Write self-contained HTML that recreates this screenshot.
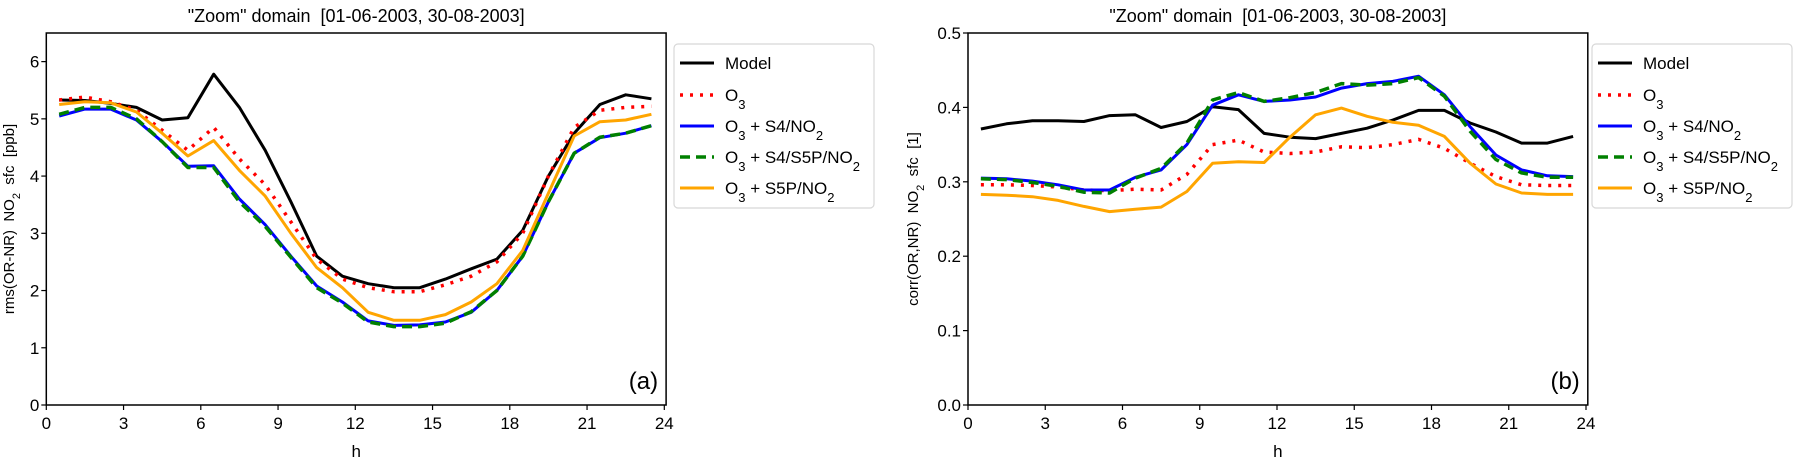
<!DOCTYPE html>
<html><head><meta charset="utf-8"><style>
html,body{margin:0;padding:0;background:#fff;}
svg{display:block;font-family:"Liberation Sans","DejaVu Sans",sans-serif;}
</style></head><body>
<svg id="fig" width="1794" height="466" viewBox="0 0 1794 466" xmlns="http://www.w3.org/2000/svg"></svg>
<script>
const hours = [0.5,1.5,2.5,3.5,4.5,5.5,6.5,7.5,8.5,9.5,10.5,11.5,12.5,13.5,14.5,15.5,16.5,17.5,18.5,19.5,20.5,21.5,22.5,23.5];
const xTicks = [0,3,6,9,12,15,18,21,24];
const rmsTicks = [0,1,2,3,4,5,6];
const corrTicks = [0.0,0.1,0.2,0.3,0.4,0.5];
const seriesNames = ["Model","O3","O3 + S4/NO2","O3 + S4/S5P/NO2","O3 + S5P/NO2"];
const rmsModel = [5.33,5.32,5.27,5.2,4.98,5.02,5.78,5.2,4.45,3.55,2.6,2.25,2.12,2.05,2.05,2.2,2.38,2.55,3.05,4.0,4.75,5.25,5.42,5.35];
const rmsO3 = [5.33,5.38,5.3,5.15,4.8,4.45,4.85,4.3,3.85,3.2,2.55,2.2,2.05,1.98,1.98,2.1,2.25,2.5,3.0,4.0,4.85,5.15,5.2,5.22];
const rmsS4 = [5.05,5.17,5.17,4.98,4.6,4.17,4.18,3.6,3.15,2.6,2.08,1.8,1.47,1.39,1.4,1.45,1.62,2.0,2.6,3.55,4.4,4.67,4.75,4.88];
const rmsS4S5P = [5.08,5.2,5.2,5.0,4.6,4.15,4.15,3.55,3.12,2.58,2.05,1.78,1.45,1.37,1.37,1.43,1.63,2.0,2.6,3.55,4.4,4.68,4.75,4.88];
const rmsS5P = [5.25,5.3,5.28,5.12,4.75,4.35,4.62,4.1,3.65,3.0,2.4,2.05,1.62,1.48,1.48,1.58,1.8,2.12,2.7,3.7,4.7,4.95,4.98,5.08];
const corrModel = [0.371,0.378,0.382,0.382,0.381,0.389,0.39,0.373,0.381,0.401,0.397,0.365,0.36,0.358,0.365,0.372,0.383,0.396,0.396,0.379,0.367,0.352,0.352,0.361];
const corrO3 = [0.296,0.296,0.295,0.293,0.289,0.288,0.29,0.289,0.31,0.35,0.356,0.34,0.338,0.34,0.347,0.346,0.35,0.357,0.345,0.325,0.307,0.296,0.295,0.295];
const corrS4 = [0.305,0.304,0.301,0.296,0.289,0.289,0.306,0.316,0.35,0.403,0.417,0.408,0.41,0.414,0.426,0.432,0.435,0.442,0.417,0.374,0.336,0.316,0.308,0.307];
const corrS4S5P = [0.304,0.303,0.299,0.294,0.286,0.285,0.305,0.318,0.352,0.41,0.42,0.408,0.413,0.42,0.432,0.43,0.432,0.44,0.415,0.368,0.33,0.312,0.306,0.306];
const corrS5P = [0.283,0.282,0.28,0.275,0.267,0.26,0.263,0.266,0.287,0.325,0.327,0.326,0.36,0.39,0.399,0.388,0.38,0.376,0.361,0.325,0.297,0.285,0.283,0.283];

const NS="http://www.w3.org/2000/svg";
const svg=document.getElementById('fig');
function mk(tag,attrs,parent){const e=document.createElementNS(NS,tag);for(const k in attrs)e.setAttribute(k,attrs[k]);(parent||svg).appendChild(e);return e;}
const styles=[
 {stroke:"#000",w:3,dash:null},
 {stroke:"#ff0000",w:3.5,dash:"3,7"},
 {stroke:"#0000ff",w:3,dash:null},
 {stroke:"#008000",w:3.5,dash:"10,6"},
 {stroke:"#ffa500",w:3,dash:null}];
const SP='\u00a0\u00a0';

function panel(cfg){
  const g=mk('g',{});
  
  
  const L=cfg.x0,R=cfg.x0+25.75*24.07,B=405,T=33;
  const xs=h=>cfg.x0+h*25.75;
  const ys=v=>B-(v-cfg.ymin)/(cfg.ymax-cfg.ymin)*(B-T);
  cfg.data.forEach((d,i)=>{
    const p=d.map((v,j)=>(j?'L':'M')+xs(hours[j]).toFixed(1)+','+ys(v).toFixed(1)).join(' ');
    const s=styles[i];
    const a={d:p,fill:'none',stroke:s.stroke,'stroke-width':s.w,'stroke-linejoin':'round'};
    if(s.dash)a['stroke-dasharray']=s.dash;
    const e=mk('path',a,g);
    
    
  });
  const fr=mk('rect',{x:L,y:T,width:R-L,height:B-T,fill:'none',stroke:'#000','stroke-width':1.5},g);
  
  
  xTicks.forEach(t=>{
    mk('line',{x1:xs(t),x2:xs(t),y1:B,y2:B+5,stroke:'#000','stroke-width':1.2},g);
    const tx=mk('text',{x:xs(t),y:B+24,'font-size':17,'text-anchor':'middle'},g);tx.textContent=t;
    
    
  });
  cfg.ticks.forEach(t=>{
    mk('line',{x1:L-5,x2:L,y1:ys(t),y2:ys(t),stroke:'#000','stroke-width':1.2},g);
    const tx=mk('text',{x:L-7,y:ys(t)+6,'font-size':17,'text-anchor':'end'},g);tx.textContent=cfg.fmt(t);
    
    
  });
  const xl=mk('text',{x:(L+R)/2,y:457,'font-size':17,'text-anchor':'middle'},g);xl.textContent='h';
  
  
  const yl=mk('text',{x:0,y:0,'font-size':15,'text-anchor':'middle',transform:`translate(${cfg.ylx},219) rotate(-90)`},g);
  yl.innerHTML=cfg.ylabel;
  
  
  const ti=mk('text',{x:(L+R)/2,y:22,'font-size':18,'text-anchor':'middle'},g);
  ti.textContent='"Zoom" domain'+SP+'[01-06-2003, 30-08-2003]';
  
  
  const pl=mk('text',{x:R-8,y:389,'font-size':24,'text-anchor':'end'},g);pl.textContent=cfg.tag;
  
  
  const lg=mk('g',{},g);
  
  
  const lx=cfg.lx;
  mk('rect',{x:lx,y:44,width:200,height:164,rx:4,fill:'#fff',stroke:'#d8d8d8','stroke-width':1.2},lg);
  const labels=['Model','O<tspan baseline-shift="sub" font-size="13">3</tspan>',
   'O<tspan baseline-shift="sub" font-size="13">3</tspan> + S4/NO<tspan baseline-shift="sub" font-size="13">2</tspan>',
   'O<tspan baseline-shift="sub" font-size="13">3</tspan> + S4/S5P/NO<tspan baseline-shift="sub" font-size="13">2</tspan>',
   'O<tspan baseline-shift="sub" font-size="13">3</tspan> + S5P/NO<tspan baseline-shift="sub" font-size="13">2</tspan>'];
  [63,95,126,157,188].forEach((yy,i)=>{
    const en=mk('g',{},lg);
    
    
    const s=styles[i];
    const a={x1:lx+6,x2:lx+40,y1:yy,y2:yy,stroke:s.stroke,'stroke-width':s.w};
    if(s.dash)a['stroke-dasharray']=s.dash;
    mk('line',a,en);
    const t=mk('text',{x:lx+51,y:yy+6,'font-size':17},en);t.innerHTML=labels[i];
  });
}
panel({name:'rms-chart',x0:46.3,ymin:0,ymax:6.5,ticks:rmsTicks,fmt:t=>t,data:[rmsModel,rmsO3,rmsS4,rmsS4S5P,rmsS5P],
  ylabel:'rms(OR-NR)&#160;&#160;NO<tspan baseline-shift="sub" font-size="11">2</tspan>&#160;&#160;sfc&#160;&#160;[ppb]',ylx:14,tag:'(a)',lx:674});
panel({name:'corr-chart',x0:968,ymin:0,ymax:0.5,ticks:corrTicks,fmt:t=>t.toFixed(1),data:[corrModel,corrO3,corrS4,corrS4S5P,corrS5P],
  ylabel:'corr(OR,NR)&#160;&#160;NO<tspan baseline-shift="sub" font-size="11">2</tspan>&#160;&#160;sfc&#160;&#160;[1]',ylx:918,tag:'(b)',lx:1592});
</script>
</body></html>
